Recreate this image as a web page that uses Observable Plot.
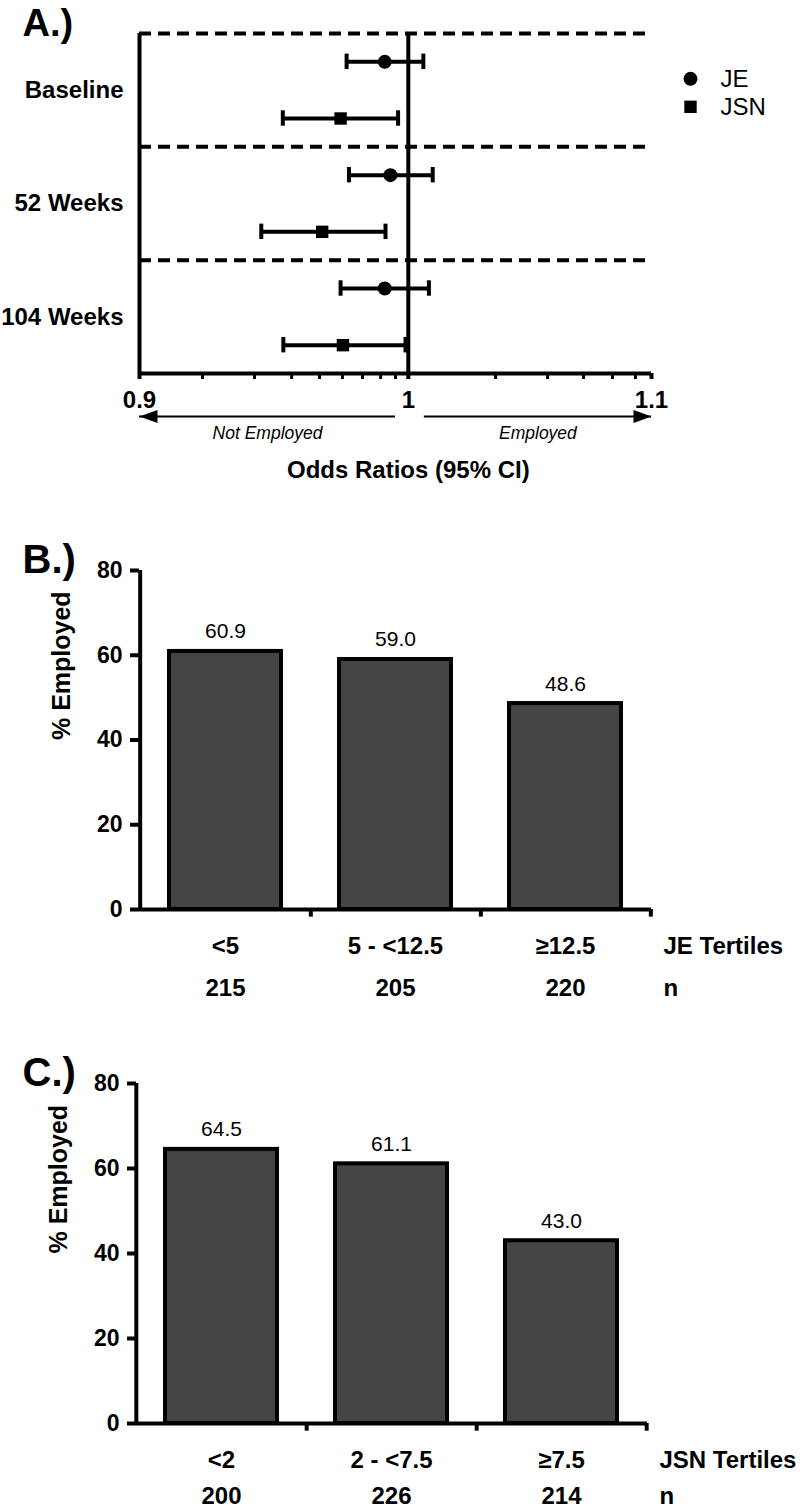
<!DOCTYPE html>
<html><head><meta charset="utf-8">
<script src="https://cdn.jsdelivr.net/npm/d3@7"></script>
<script src="https://cdn.jsdelivr.net/npm/@observablehq/plot@0.6"></script>
<style>
html,body{margin:0;padding:0;background:#fff;}
#wrap{position:relative;width:800px;height:1509px;overflow:hidden;}
.panel{position:absolute;left:0;}
.panel svg{display:block;}
</style></head><body><div id="wrap"></div>
<script>
const FONT = '"Liberation Sans", Arial, Helvetica, sans-serif';

// ---------- Panel A: odds ratios (95% CI) ----------
const timepoints = ["Baseline", "52 Weeks", "104 Weeks"];
const seriesNames = ["JE", "JSN"];
const orJE  = [0.9908, 0.9930, 0.9908];
const loJE  = [0.9761, 0.9770, 0.9738];
const hiJE  = [1.0059, 1.0096, 1.0081];
const orJSN = [0.9738, 0.9668, 0.9747];
const loJSN = [0.9520, 0.9440, 0.9522];
const hiJSN = [0.9960, 0.9911, 0.9989];
const orMajorTicks = [0.9, 1, 1.1];
const orMinorTicks = [0.9225, 0.9415, 0.9553, 0.9658, 0.9745, 0.9822, 0.9892, 0.9950,
                      1.0348, 1.0561, 1.0711, 1.0833, 1.0931];
const directionLabels = ["Not Employed", "Employed"];
const directionFrom = [0.9950, 1.0063];
const directionTo = [0.9, 1.1];

// ---------- Panel B: JE tertiles ----------
const jeTertiles = ["<5", "5 - <12.5", "≥12.5"];
const jeEmployed = [60.9, 59.0, 48.6];
const jeN = [215, 205, 220];

// ---------- Panel C: JSN tertiles ----------
const jsnTertiles = ["<2", "2 - <7.5", "≥7.5"];
const jsnEmployed = [64.5, 61.1, 43.0];
const jsnN = [200, 226, 214];

const pctTicks = [0, 20, 40, 60, 80];

const LW = 4; // main line weight

const wrap = document.getElementById("wrap");
function place(node, top) {
  const d = document.createElement("div");
  d.className = "panel";
  d.style.top = top + "px";
  d.appendChild(node);
  wrap.appendChild(d);
}

// ----- Panel A -----
const rows = [];
timepoints.forEach((t, i) => {
  rows.push({time: t, series: "JE", or: orJE[i], lo: loJE[i], hi: hiJE[i], pos: i + 0.25});
  rows.push({time: t, series: "JSN", or: orJSN[i], lo: loJSN[i], hi: hiJSN[i], pos: i + 0.75});
});
const capHalf = 0.068;
const arrowRow = 3.38;
const arrows = directionLabels.map((label, i) => ({label, from: directionFrom[i], to: directionTo[i]}));
const arrowHead = {
  draw(ctx) {
    ctx.moveTo(0, 0);
    ctx.lineTo(-18, -6.5);
    ctx.lineTo(-18, 6.5);
    ctx.closePath();
  }
};

const plotA = Plot.plot({
  width: 800, height: 500,
  marginTop: 33, marginBottom: 127, marginLeft: 139, marginRight: 149,
  style: {fontFamily: FONT, background: "white", color: "black", overflow: "visible"},
  x: {type: "log", domain: [0.9, 1.1]},
  y: {domain: [0, 3], reverse: true, axis: null},
  symbol: {domain: seriesNames, range: ["circle", "square"]},
  marks: [
    Plot.ruleY(d3.range(timepoints.length), {x1: 0.9, x2: 1.1, stroke: "black", strokeWidth: LW, strokeDasharray: "12,7"}),
    Plot.ruleY([timepoints.length], {x1: 0.9, x2: 1.1, stroke: "black", strokeWidth: LW}),
    Plot.ruleX([0.9, 1], {y1: 0, y2: timepoints.length, stroke: "black", strokeWidth: LW}),
    Plot.axisX({ticks: orMinorTicks, tickSize: 6, strokeWidth: 3, tickFormat: () => "", label: null}),
    Plot.axisX({ticks: orMajorTicks, tickSize: 6, strokeWidth: LW, tickPadding: 11,
      tickFormat: d => String(d), fontSize: 24, fontWeight: "bold", label: null}),
    Plot.ruleY(rows, {x1: "lo", x2: "hi", y: "pos", stroke: "black", strokeWidth: LW}),
    Plot.ruleX(rows, {x: "lo", y1: d => d.pos - capHalf, y2: d => d.pos + capHalf, stroke: "black", strokeWidth: LW}),
    Plot.ruleX(rows, {x: "hi", y1: d => d.pos - capHalf, y2: d => d.pos + capHalf, stroke: "black", strokeWidth: LW}),
    Plot.dot(rows, {x: "or", y: "pos", symbol: "series", fill: "black", r: 7}),
    Plot.text(timepoints, {y: (d, i) => i + 0.5, text: d => d, frameAnchor: "left", textAnchor: "end",
      dx: -16, fontSize: 24, fontWeight: "bold"}),
    // legend
    Plot.dot(seriesNames, {y: (d, i) => 0.4 + i * 0.247, symbol: d => d, fill: "black", r: 7,
      frameAnchor: "right", dx: 39}),
    Plot.text(seriesNames, {y: (d, i) => 0.4 + i * 0.247, text: d => d, frameAnchor: "right",
      dx: 69, textAnchor: "start", fontSize: 24}),
    // direction arrows
    Plot.ruleY(arrows, {x1: "from", x2: "to", y: arrowRow, stroke: "black", strokeWidth: 2}),
    Plot.dot(arrows, {x: "to", y: arrowRow, symbol: arrowHead, fill: "black",
      rotate: d => d.to < 1 ? 180 : 0}),
    Plot.text(arrows, {x: d => Math.sqrt(d.from * d.to), y: arrowRow, text: "label", dy: 22,
      lineAnchor: "bottom", fontStyle: "italic", fontSize: 17.5}),
    Plot.text(["Odds Ratios (95% CI)"], {x: 1, frameAnchor: "bottom", dy: 104, lineAnchor: "bottom",
      fontSize: 24, fontWeight: "bold"}),
    Plot.text(["A.)"], {frameAnchor: "top-left", dx: -117, dy: 2, textAnchor: "start",
      lineAnchor: "bottom", fontSize: 38, fontWeight: "bold"})
  ]
});
place(plotA, 0);

// ----- Panels B and C -----
function barPanel({cats, vals, ns, rowLabel, letter, height, marginTop, marginBottom, marginLeft, marginRight, nDy}) {
  const data = cats.map((c, i) => ({cat: c, value: vals[i], n: ns[i]}));
  const step = (800 - marginLeft - marginRight) / cats.length;
  return Plot.plot({
    width: 800, height, marginTop, marginBottom, marginLeft, marginRight,
    style: {fontFamily: FONT, background: "white", color: "black", overflow: "visible"},
    x: {type: "band", domain: cats, paddingInner: 0.34, paddingOuter: 0.17, axis: null},
    y: {domain: [0, 80], axis: null},
    marks: [
      Plot.barY(data, {x: "cat", y: "value", fill: "#444444", stroke: "black", strokeWidth: LW}),
      Plot.ruleY([0], {stroke: "black", strokeWidth: LW}),
      Plot.ruleX([cats[0]], {dx: -step / 2, stroke: "black", strokeWidth: LW}),
      Plot.ruleX(cats, {dx: step / 2, y1: 0, y2: -1.8, stroke: "black", strokeWidth: LW}),
      Plot.axisY({ticks: pctTicks, tickSize: 9, tickPadding: 8, strokeWidth: LW,
        fontSize: 23, fontWeight: "bold", label: null}),
      Plot.text(data, {x: "cat", y: "value", text: d => d.value.toFixed(1), dy: -13,
        lineAnchor: "bottom", fontSize: 21}),
      Plot.text(data, {x: "cat", text: "cat", frameAnchor: "bottom", dy: 44, lineAnchor: "bottom",
        fontSize: 24, fontWeight: "bold"}),
      Plot.text(data, {x: "cat", text: d => String(d.n), frameAnchor: "bottom", dy: nDy,
        lineAnchor: "bottom", fontSize: 24, fontWeight: "bold"}),
      Plot.text([rowLabel], {frameAnchor: "bottom-right", dx: 12, dy: 44, textAnchor: "start",
        lineAnchor: "bottom", fontSize: 24, fontWeight: "bold"}),
      Plot.text(["n"], {frameAnchor: "bottom-right", dx: 12, dy: nDy, textAnchor: "start",
        lineAnchor: "bottom", fontSize: 24, fontWeight: "bold"}),
      Plot.text(["% Employed"], {frameAnchor: "left", rotate: -90, dx: -78, fontSize: 25, fontWeight: "bold"}),
      Plot.text([letter], {frameAnchor: "top-left", dx: 22 - marginLeft, dy: 2, textAnchor: "start",
        lineAnchor: "bottom", fontSize: 40, fontWeight: "bold"})
    ]
  });
}

place(barPanel({cats: jeTertiles, vals: jeEmployed, ns: jeN, rowLabel: "JE Tertiles", letter: "B.)",
  height: 510, marginTop: 70, marginBottom: 101, marginLeft: 139, marginRight: 149, nDy: 86}), 500);

place(barPanel({cats: jsnTertiles, vals: jsnEmployed, ns: jsnN, rowLabel: "JSN Tertiles", letter: "C.)",
  height: 499, marginTop: 73, marginBottom: 86, marginLeft: 136, marginRight: 153, nDy: 80}), 1010);
</script></body></html>
